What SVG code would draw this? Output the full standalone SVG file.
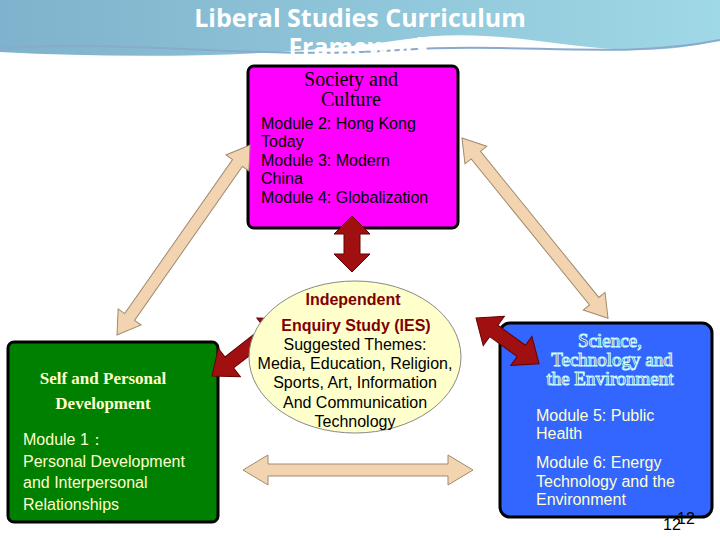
<svg xmlns="http://www.w3.org/2000/svg" width="720" height="540" viewBox="0 0 720 540">
<defs>
<linearGradient id="bg" x1="0" y1="0" x2="1" y2="0"><stop offset="0" stop-color="#7fb2cc"/><stop offset="1" stop-color="#9fd8e6"/></linearGradient>
<style>
.s{font-family:"Liberation Sans",Arial,sans-serif;font-size:16px}
.r{font-family:"Liberation Serif","Times New Roman",serif}
.dbl{fill:#f2d5b0;stroke:#a08a70;stroke-width:1}
.red{fill:#a01010;stroke:#600;stroke-width:1}
</style>
</defs>
<rect width="720" height="540" fill="#fff"/>
<path d="M0 0H720V40C600 70 520 20 400 40C300 55 150 60 0 52Z" fill="url(#bg)"/>
<path d="M0 48C150 40 250 60 400 50C520 42 620 60 720 40" fill="none" stroke="#8ac" stroke-width="2"/>
<text x="360" y="27" text-anchor="middle" font-family="Open Sans,sans-serif" font-weight="bold" font-size="25" fill="#fff">Liberal Studies Curriculum</text>
<text x="360" y="56" text-anchor="middle" font-family="Open Sans,sans-serif" font-weight="bold" font-size="25" fill="#fff">Framework</text>
<g id="society">
<rect x="248" y="66" width="210" height="162" rx="6" fill="#ff00ff" stroke="#000" stroke-width="3"/>
<text class="r" font-size="20" text-anchor="middle" x="351" y="86">Society and</text>
<text class="r" font-size="20" text-anchor="middle" x="351" y="106">Culture</text>
<text class="s" x="261" y="129">Module 2: Hong Kong</text>
<text class="s" x="261" y="147">Today</text>
<text class="s" x="261" y="166">Module 3: Modern</text>
<text class="s" x="261" y="184">China</text>
<text class="s" x="261" y="203">Module 4: Globalization</text>
</g>
<g id="self">
<rect x="8" y="342" width="210" height="180" rx="6" fill="#008000" stroke="#000" stroke-width="3"/>
<text class="r" font-size="17" font-weight="bold" fill="#ffffcc" text-anchor="middle" x="103" y="384">Self and Personal</text>
<text class="r" font-size="17" font-weight="bold" fill="#ffffcc" text-anchor="middle" x="103" y="409">Development</text>
<g class="s" fill="#ffffcc">
<text x="23" y="445">Module 1：</text>
<text x="23" y="467">Personal Development</text>
<text x="23" y="488">and Interpersonal</text>
<text x="23" y="510">Relationships</text>
</g>
</g>
<g id="science">
<rect x="500" y="323" width="212" height="194" rx="10" fill="#3366ff" stroke="#000" stroke-width="3"/>
<g class="r" font-size="19" fill="#336" stroke="#ccffff" stroke-width="1" text-anchor="middle">
<text x="610" y="347">Science,</text>
<text x="612" y="366">Technology and</text>
<text x="610" y="385">the Environment</text>
</g>
<g class="s" fill="#ffffcc">
<text x="536" y="421">Module 5: Public</text>
<text x="536" y="439">Health</text>
<text x="536" y="468">Module 6: Energy</text>
<text x="536" y="487">Technology and the</text>
<text x="536" y="505">Environment</text>
</g>
</g>
<g id="connectors">
<polygon class="dbl" transform="translate(117,335) rotate(-55)" points="0,0 22,-14 22,-6 210,-6 210,-14 232,0 210,14 210,6 22,6 22,14"/>
<polygon class="dbl" transform="translate(462,138) rotate(51)" points="0,0 22,-14 22,-6 210,-6 210,-14 232,0 210,14 210,6 22,6 22,14"/>
<polygon class="dbl" points="243,470 268,455 268,464 448,464 448,455 473,470 448,485 448,476 268,476 268,485"/>
<polygon class="red" points="352,216 370,234 360,234 360,254 370,254 352,272 334,254 344,254 344,234 334,234"/>
<polygon class="red" transform="translate(212,376) rotate(-38)" points="0,0 22,-18 22,-7 71,-7 71,-18 93,0 71,18 71,7 22,7 22,18"/>
<polygon class="red" transform="translate(476,318) rotate(36)" points="0,0 22,-18 22,-7 56,-7 56,-18 78,0 56,18 56,7 22,7 22,18"/>
</g>
<g id="ies">
<ellipse cx="355" cy="357" rx="106" ry="76" fill="#ffffcc" stroke="#888"/>
<text class="s" font-size="17" font-weight="bold" fill="#800000" text-anchor="middle" x="353" y="305">Independent</text>
<text class="s" font-size="17" font-weight="bold" fill="#800000" text-anchor="middle" x="356" y="331">Enquiry Study (IES)</text>
<g class="s" font-size="15" text-anchor="middle">
<text x="355" y="350">Suggested Themes:</text>
<text x="355" y="369">Media, Education, Religion,</text>
<text x="355" y="388">Sports, Art, Information</text>
<text x="355" y="408">And Communication</text>
<text x="355" y="427">Technology</text>
</g>
</g>
<text class="s" font-size="13" x="663" y="530">12</text>
<text class="s" font-size="8" x="677" y="524">12</text>
</svg>
